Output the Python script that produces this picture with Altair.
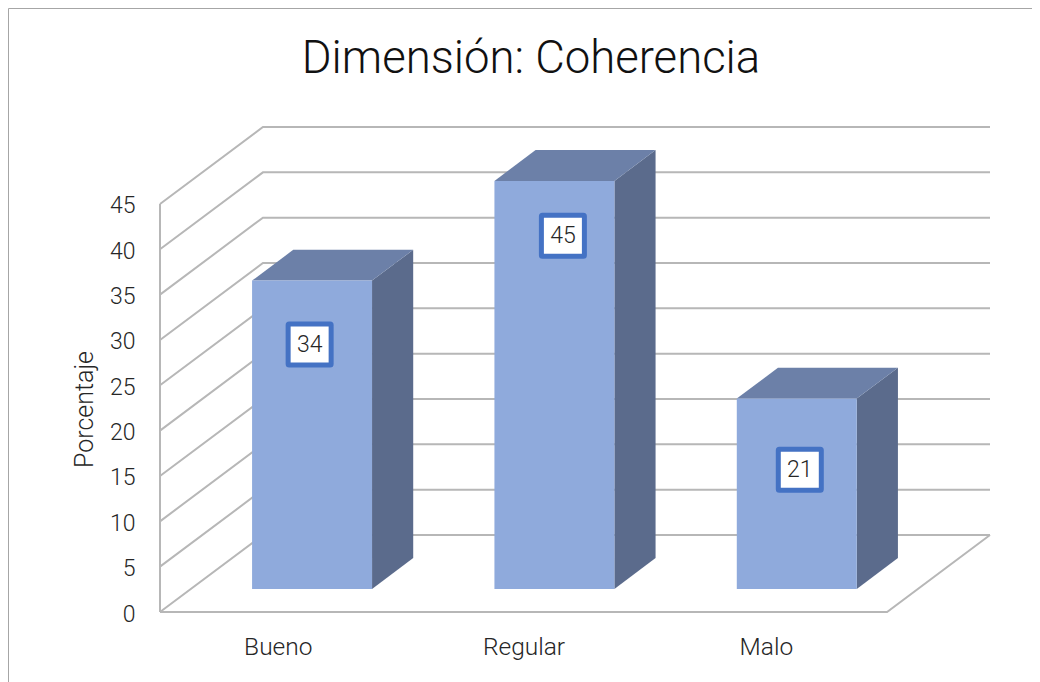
import altair as alt
import pandas as pd

title_text = "Dimensión: Coherencia"
categories = ["Bueno", "Regular", "Malo"]
values = [34, 45, 21]
label_heights = [29.5, 41.5, 15.7]
label_shift = [-0.01, 0.035, 0.0125]
y_ticks = [0, 5, 10, 15, 20, 25, 30, 35, 40, 45]

DEPTH_X = 0.4247
DEPTH_Y = 8.49
Z0, Z1 = 0.3, 0.7
BAR_W = 0.495

FONT = "Roboto"
INK = "#262626"
GRID = "#b7b7b7"
FRAME = "#a6a6a6"
FRONT = "#8faadc"
TOP = "#6c80a8"
SIDE = "#5b6b8c"
BORDER = "#4472c4"

PLOT_W, PLOT_H = 830, 485
x_scale = alt.Scale(domain=[0, 3 + DEPTH_X], nice=False, zero=False)
y_scale = alt.Scale(domain=[0, 45 + DEPTH_Y], nice=False, zero=False)

x_axis = alt.Axis(
    values=[0.486, 1.5, 2.5],
    labelExpr="datum.value < 1 ? '%s' : datum.value < 2 ? '%s' : '%s'" % tuple(categories),
    domain=False, ticks=False, grid=False, labelFont=FONT, labelFontWeight=300,
    labelFontSize=24.5, labelColor=INK, labelPadding=35, labelAngle=0,
    labelBaseline="middle", title=None,
)
y_axis = alt.Axis(
    values=y_ticks, domain=False, ticks=False, grid=False, labelFont=FONT,
    labelFontWeight=300, labelFontSize=23, labelColor=INK, labelPadding=25,
    title="Porcentaje", titleFont=FONT, titleFontWeight=300, titleFontSize=25,
    titleColor=INK, titleX=-63, titleY=282, labelOffset=2,
)

# Wall and floor lines
lines = []
for v in y_ticks:
    key = f"g{v}"
    lines += [
        {"g": key, "x": 0, "y": v, "o": 0},
        {"g": key, "x": DEPTH_X, "y": v + DEPTH_Y, "o": 1},
        {"g": key, "x": 3 + DEPTH_X, "y": v + DEPTH_Y, "o": 2},
    ]
lines += [
    {"g": "floor", "x": 0, "y": 0, "o": 0},
    {"g": "floor", "x": 3, "y": 0, "o": 1},
    {"g": "floor", "x": 3 + DEPTH_X, "y": DEPTH_Y, "o": 2},
    {"g": "wall", "x": 0, "y": 0, "o": 0},
    {"g": "wall", "x": 0, "y": 45, "o": 1},
]
lines_df = pd.DataFrame(lines)

# 3D bar faces
front, side, top = [], [], []
for i, (c, v) in enumerate(zip(categories, values)):
    left = i + 0.5 - BAR_W / 2
    right = i + 0.5 + BAR_W / 2
    x0, x1 = left + Z0 * DEPTH_X, right + Z0 * DEPTH_X
    xs = (Z1 - Z0) * DEPTH_X
    base0 = Z0 * DEPTH_Y
    top0 = v + base0
    dy = (Z1 - Z0) * DEPTH_Y
    front.append({"c": c, "x": x0, "x2": x1, "y": base0, "y2": top0})
    side += [
        {"c": c, "x": x1, "y": base0, "y2": top0},
        {"c": c, "x": x1 + xs, "y": base0 + dy, "y2": top0 + dy},
    ]
    top += [
        {"c": c, "y": top0, "x": x0, "x2": x1},
        {"c": c, "y": top0 + dy, "x": x0 + xs, "x2": x1 + xs},
    ]
front_df, side_df, top_df = map(pd.DataFrame, (front, side, top))

labels_df = pd.DataFrame({
    "c": categories,
    "v": values,
    "x": [i + 0.5 + Z0 * DEPTH_X + s for i, s in enumerate(label_shift)],
    "y": label_heights,
})

X = alt.X("x:Q", scale=x_scale, axis=x_axis)
Y = alt.Y("y:Q", scale=y_scale, axis=y_axis)

grid = alt.Chart(lines_df).mark_line(strokeWidth=2, color=GRID).encode(
    x=X, y=Y, detail="g:N", order="o:Q"
)
side_l = alt.Chart(side_df).mark_area(color=SIDE, opacity=1).encode(
    x=X, y=Y, y2="y2:Q", detail="c:N"
)
top_l = alt.Chart(top_df).mark_area(color=TOP, orient="horizontal", opacity=1).encode(
    y=Y, x=X, x2="x2:Q", detail="c:N"
)
front_l = alt.Chart(front_df).mark_rect(color=FRONT).encode(
    x=X, x2="x2:Q", y=Y, y2="y2:Q"
)
boxes = alt.Chart(labels_df).mark_rect(
    fill="white", stroke=BORDER, strokeWidth=5, width=43, height=41, cornerRadius=1
).encode(x=X, y=Y)
texts = alt.Chart(labels_df).mark_text(
    font=FONT, fontWeight=300, fontSize=23, color=INK
).encode(x=X, y=Y, text="v:Q")

frame_left = alt.Chart(pd.DataFrame({"a": [0]})).mark_rule(color=FRAME, strokeWidth=1).encode(
    x=alt.value(-151.5), y=alt.value(-118.5), y2=alt.value(555)
)
frame_top = alt.Chart(pd.DataFrame({"a": [0]})).mark_rule(color=FRAME, strokeWidth=1).encode(
    x=alt.value(-151.5), x2=alt.value(872), y=alt.value(-118.5)
)

chart = alt.layer(
    frame_left, frame_top, grid, side_l, top_l, front_l, boxes, texts
).properties(
    width=PLOT_W,
    height=PLOT_H,
    autosize=alt.AutoSizeParams(type="none"),
    padding={"left": 152, "top": 119, "right": 42, "bottom": 70},
    background="white",
    title=alt.TitleParams(
        text=title_text, font=FONT, fontSize=45.5, fontWeight=300, color="#111111",
        anchor="middle", frame="group", dx=-44, dy=74, offset=0,
    ),
).configure_view(stroke=None)

chart.save("out.html", embed_options={"renderer": "svg", "actions": False})
